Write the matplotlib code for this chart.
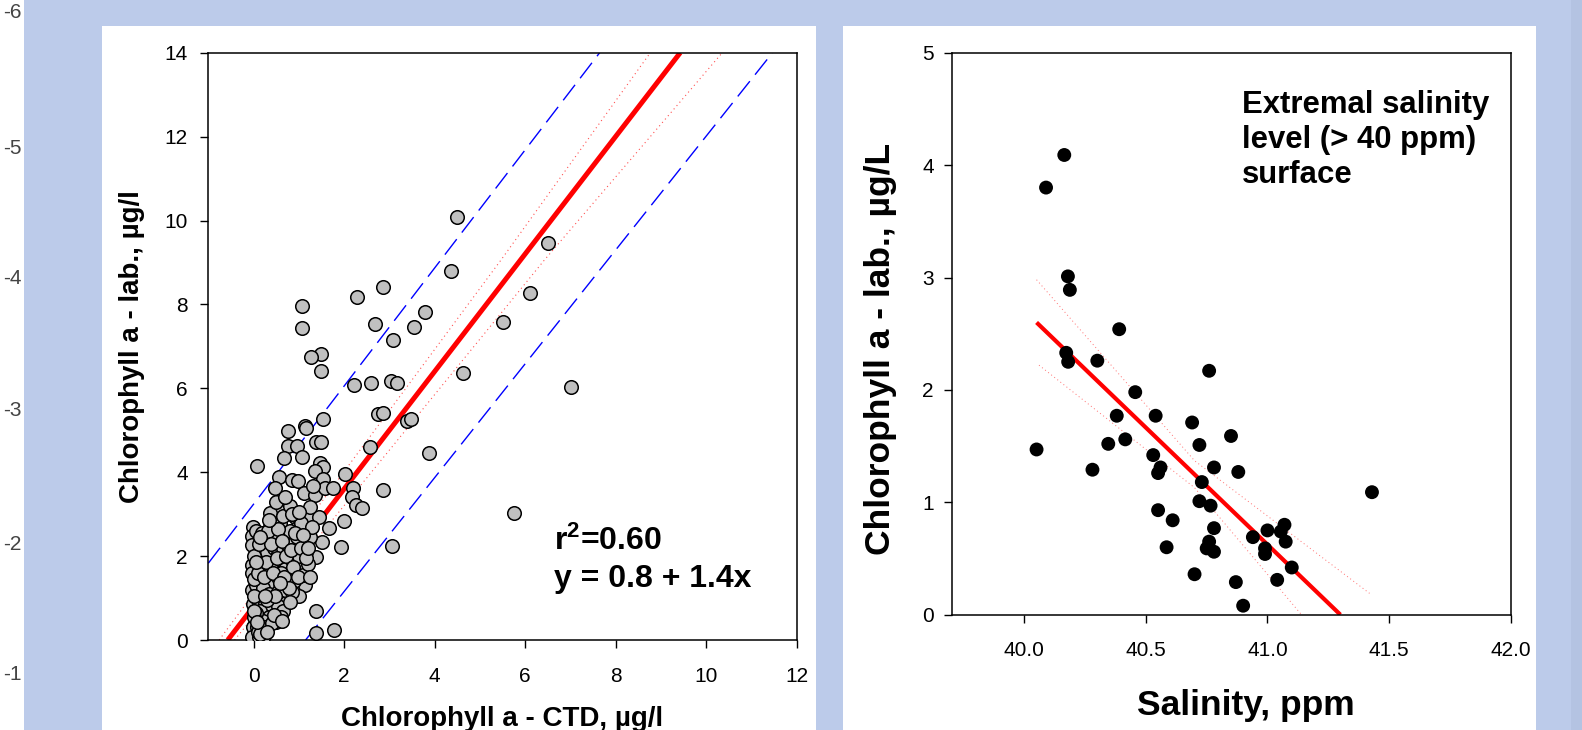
import matplotlib
matplotlib.use("Agg")
import matplotlib.pyplot as plt
from matplotlib.patches import Rectangle

plt.rcParams['font.family'] = ['Liberation Sans', 'DejaVu Sans']
plt.rcParams['mathtext.default'] = 'regular'

W, H = 1582, 730

# left chart: chlorophyll a, CTD vs lab (ug/l)
ctd = [4.49, 6.50, 4.37, 6.11, 2.87, 2.28, 1.08, 1.08, 2.69, 3.80, 3.55, 3.08, 5.52, 1.48,
       1.28, 1.48, 4.63, 7.01, 2.23, 2.60, 3.04, 3.17, 2.76, 2.87, 3.39, 3.48, 1.54, 1.13,
       1.17, 0.77, 1.39, 1.50, 0.77, 0.97, 2.58, 3.88, 5.76, 3.06, 2.87,
       0.07, 0.67, 1.07, 1.47, 1.53, 1.36, 0.56, 0.86, 0.99, 1.53, 0.47, 1.11, 1.36, 1.58,
       1.76, 1.32, 2.03, 2.19, 2.17, 2.27, 2.39, 2.01, 1.93, 1.67, 1.52, 1.38, 1.22, 1.44,
       1.24, 0.91, 0.58, 0.37, 0.58, 0.37, 0.97, 1.16, 1.24, -0.01, -0.03, -0.03, 0.28, 0.58,
       0.91, 1.17, 1.02, 0.37, -0.03, -0.03, 0.24, 0.50, 0.76, 0.87, 0.61, 1.13, 1.00, -0.03,
       0.17, 0.47, 0.69, -0.01, 0.27, 0.06, -0.01, 0.07, -0.03, 0.13, 0.50, 1.39, 1.38, 1.78,
       0.10, 0.20, 0.30, 0.45, 0.55, 0.65, 0.75, 0.85, 0.70, 0.80, 0.95, 0.45, 0.25, 0.15,
       0.35, 0.45, 0.60, 0.70, 0.80, 0.95, 1.05, 0.90, 0.75, 0.60, 0.40, 0.30, 0.15, 0.05,
       0.20, 0.35, 0.55, 0.70, 0.85, 0.10, 0.25, 0.40, 0.55, 0.65, 0.15, 0.35, 0.20, 0.10,
       0.25, 0.40, 0.05, 0.60, 0.80, 1.10, 1.20, 1.00, 0.65, 0.80, 0.50, 1.05, 1.30, 0.20,
       0.15, 0.00, 0.02, 0.30,
       0.00, 0.00, 0.00, 0.05, 0.10, 0.12, 0.18, 0.22, 0.28, 0.32, 0.38, 0.42, 0.48, 0.52,
       0.55, 0.62, 0.68, 0.72, 0.78, 0.82, 0.88, 0.92, 0.98, 1.05, 1.10, 1.15, 1.20, 1.25,
       0.30, 0.45, 0.08, 0.58, 0.35, 0.85, 1.00, 0.70, 0.15, 0.25, 0.62, 0.05]
lab = [10.09, 9.47, 8.80, 8.26, 8.42, 8.17, 7.95, 7.43, 7.53, 7.83, 7.45, 7.14, 7.57, 6.82,
       6.74, 6.42, 6.36, 6.02, 6.07, 6.13, 6.18, 6.13, 5.38, 5.40, 5.23, 5.28, 5.26, 5.10,
       5.05, 4.98, 4.73, 4.73, 4.63, 4.63, 4.61, 4.45, 3.02, 2.24, 3.58,
       4.15, 4.33, 4.37, 4.23, 4.12, 4.04, 3.89, 3.81, 3.80, 3.83, 3.62, 3.50, 3.46, 3.63,
       3.62, 3.66, 3.95, 3.63, 3.42, 3.23, 3.14, 2.84, 2.21, 2.68, 2.34, 1.99, 2.94, 2.94,
       3.18, 2.94, 3.10, 3.03, 2.78, 2.70, 2.66, 2.58, 2.46, 2.69, 2.48, 2.26, 2.24, 2.41,
       2.15, 2.10, 2.34, 1.95, 1.79, 1.59, 1.67, 1.55, 1.79, 1.60, 1.31, 1.31, 1.06, 1.19,
       1.11, 0.95, 0.97, 0.87, 0.61, 0.48, 0.32, 0.30, 0.08, 0.08, 0.44, 0.70, 0.17, 0.24,
       2.05, 1.95, 2.10, 2.20, 2.05, 2.20, 2.30, 2.40, 2.55, 2.60, 2.45, 2.50, 2.35, 1.80,
       1.75, 1.85, 1.90, 1.70, 1.95, 1.85, 1.70, 1.40, 1.45, 1.60, 1.40, 1.30, 1.40, 1.30,
       1.25, 1.10, 1.15, 1.20, 1.15, 0.95, 0.85, 0.75, 0.80, 0.70, 0.70, 0.55, 0.45, 0.20,
       0.30, 0.40, 0.65, 0.55, 0.90, 1.55, 1.80, 2.00, 2.95, 3.20, 3.30, 2.80, 2.70, 0.05,
       0.15, 0.55, 1.05, 0.95,
       2.00, 1.45, 0.70, 2.60, 1.60, 2.30, 2.55, 1.50, 1.85, 2.60, 2.30, 1.60, 1.05, 1.95,
       2.65, 2.35, 1.50, 2.00, 1.25, 2.15, 1.75, 2.55, 1.50, 2.20, 2.50, 1.95, 2.20, 1.50,
       0.20, 0.60, 0.42, 1.35, 2.85, 3.00, 3.05, 3.40, 2.45, 1.05, 0.45, 1.85]

fit1_x = [-0.57, 9.43]
fit1_y = [0.0, 14.0]
ci1_up_x = [-0.76, 5.47, 8.77]
ci1_up_y = [0.0, 9.06, 14.0]
ci1_lo_x = [-0.42, 6.43, 10.36]
ci1_lo_y = [0.0, 9.06, 14.0]
pi1_up_x = [-1.0, 7.65]
pi1_up_y = [1.83, 14.0]
pi1_lo_x = [1.15, 11.47]
pi1_lo_y = [0.0, 14.0]

# right chart: salinity vs chlorophyll (> 40 ppm, surface)
sal = [40.164, 40.089, 40.179, 40.187, 40.39, 40.172, 40.18, 40.30, 40.76, 40.456, 40.38,
       40.54, 40.69, 40.85, 40.05, 40.345, 40.415, 40.72, 40.53, 40.28, 40.56, 40.55, 40.78,
       40.88, 40.73, 41.43, 40.72, 40.766, 40.55, 40.61, 40.78, 40.94, 41.00, 41.07, 41.055,
       41.075, 40.99, 40.99, 40.76, 40.75, 40.78, 40.585, 41.10, 40.70, 40.87, 41.04, 40.90]
chl = [4.09, 3.80, 3.01, 2.89, 2.54, 2.33, 2.25, 2.26, 2.17, 1.98, 1.77, 1.77, 1.71, 1.59,
       1.47, 1.52, 1.56, 1.51, 1.42, 1.29, 1.31, 1.26, 1.31, 1.27, 1.18, 1.09, 1.01, 0.97,
       0.93, 0.84, 0.77, 0.69, 0.75, 0.80, 0.74, 0.65, 0.59, 0.54, 0.65, 0.59, 0.56, 0.60,
       0.42, 0.36, 0.29, 0.31, 0.08]

fit2_x = [40.05, 41.30]
fit2_y = [2.60, 0.0]
ci2_up_x = [40.05, 40.70, 41.42]
ci2_up_y = [2.98, 1.37, 0.19]
ci2_lo_x = [40.06, 40.70, 41.14]
ci2_lo_y = [2.22, 1.13, 0.0]

side_ticks = ['-6', '-5', '-4', '-3', '-2', '-1']
side_ticks_y = [13, 148, 278, 410, 545, 675]
note_lines = ['Extremal salinity', 'level (> 40 ppm)', 'surface']

fig = plt.figure(figsize=(W / 100, H / 100), dpi=100, facecolor='#bccbea')


def box(x0, y0, x1, y1, color):
    fig.add_artist(Rectangle((x0 / W, 1 - y1 / H), (x1 - x0) / W, (y1 - y0) / H,
                             transform=fig.transFigure, facecolor=color,
                             edgecolor='none', zorder=-5))


box(0, 0, 24, H, 'white')
box(101.7, 26, 816, H, 'white')
box(843, 26, 1536, H, 'white')
box(1571, 0, W, H, '#b4c3e2')

for t, y in zip(side_ticks, side_ticks_y):
    fig.text(22 / W, 1 - y / H, t, ha='right', va='center', fontsize=15, color='#444444')


def style(ax, xpad, ypad):
    for s in ax.spines.values():
        s.set_linewidth(1.1)
    ax.tick_params(direction='out', length=5.8, width=1.0, labelsize=15,
                   top=False, right=False)
    ax.tick_params(axis='x', pad=xpad)
    ax.tick_params(axis='y', pad=ypad)


# left
ax1 = fig.add_axes([208.3 / W, 1 - 640 / H, 588.2 / W, 587.3 / H])
ax1.plot(pi1_up_x, pi1_up_y, color='blue', lw=1.0, ls=(0, (14, 6)), zorder=2)
ax1.plot(pi1_lo_x, pi1_lo_y, color='blue', lw=1.0, ls=(0, (14, 6)), zorder=2)
ax1.plot(ci1_up_x, ci1_up_y, color='#ff5050', lw=0.8, ls=(0, (1, 3)), zorder=2)
ax1.plot(ci1_lo_x, ci1_lo_y, color='#ff5050', lw=0.8, ls=(0, (1, 3)), zorder=2)
ax1.plot(fit1_x, fit1_y, color='red', lw=3.6, zorder=2, solid_capstyle='butt')
ax1.scatter(ctd, lab, s=95, c='#c0c0c0', edgecolors='black', linewidths=1.1, zorder=3)
ax1.set_xlim(-1, 12)
ax1.set_ylim(0, 14)
ax1.set_xticks(range(0, 13, 2))
ax1.set_yticks(range(0, 15, 2))
style(ax1, 13.5, 9)
ax1.set_xlabel('Chlorophyll a - CTD, \u00b5g/l', fontsize=20, fontweight='bold')
ax1.set_ylabel('Chlorophyll a - lab., \u00b5g/l', fontsize=20, fontweight='bold')
ax1.xaxis.set_label_coords(0.5, -0.113)
ax1.yaxis.set_label_coords(-0.108, 0.5)
ax1.text(6.64, 2.15, 'r$^2$=0.60', fontsize=23, fontweight='bold', va='baseline')
ax1.text(6.64, 1.26, 'y = 0.8 + 1.4x', fontsize=23, fontweight='bold', va='baseline')

# right
ax2 = fig.add_axes([951.5 / W, 1 - 614.7 / H, 559 / W, 562 / H])
ax2.plot(ci2_up_x, ci2_up_y, color='#ff7070', lw=0.7, ls=(0, (1, 3)), zorder=2)
ax2.plot(ci2_lo_x, ci2_lo_y, color='#ff7070', lw=0.7, ls=(0, (1, 3)), zorder=2)
ax2.plot(fit2_x, fit2_y, color='red', lw=3.0, zorder=2, solid_capstyle='butt')
ax2.scatter(sal, chl, s=100, c='black', edgecolors='none', zorder=3)
ax2.set_xlim(39.7, 42.0)
ax2.set_ylim(0, 5)
ax2.set_xticks([40.0, 40.5, 41.0, 41.5, 42.0])
ax2.set_xticklabels(['%.1f' % v for v in [40.0, 40.5, 41.0, 41.5, 42.0]])
ax2.set_yticks(range(0, 6))
style(ax2, 13, 7)
ax2.set_xlabel('Salinity, ppm', fontsize=25.5, fontweight='bold')
ax2.set_ylabel('Chlorophyll a - lab., \u00b5g/L', fontsize=25.5, fontweight='bold')
ax2.xaxis.set_label_coords(0.526, -0.132)
ax2.yaxis.set_label_coords(-0.098, 0.473)
for line, yv in zip(note_lines, [4.46, 4.15, 3.84]):
    ax2.text(40.894, yv, line, fontsize=22.4, fontweight='bold', va='baseline')

fig.savefig('out.png', dpi=100, facecolor=fig.get_facecolor())
